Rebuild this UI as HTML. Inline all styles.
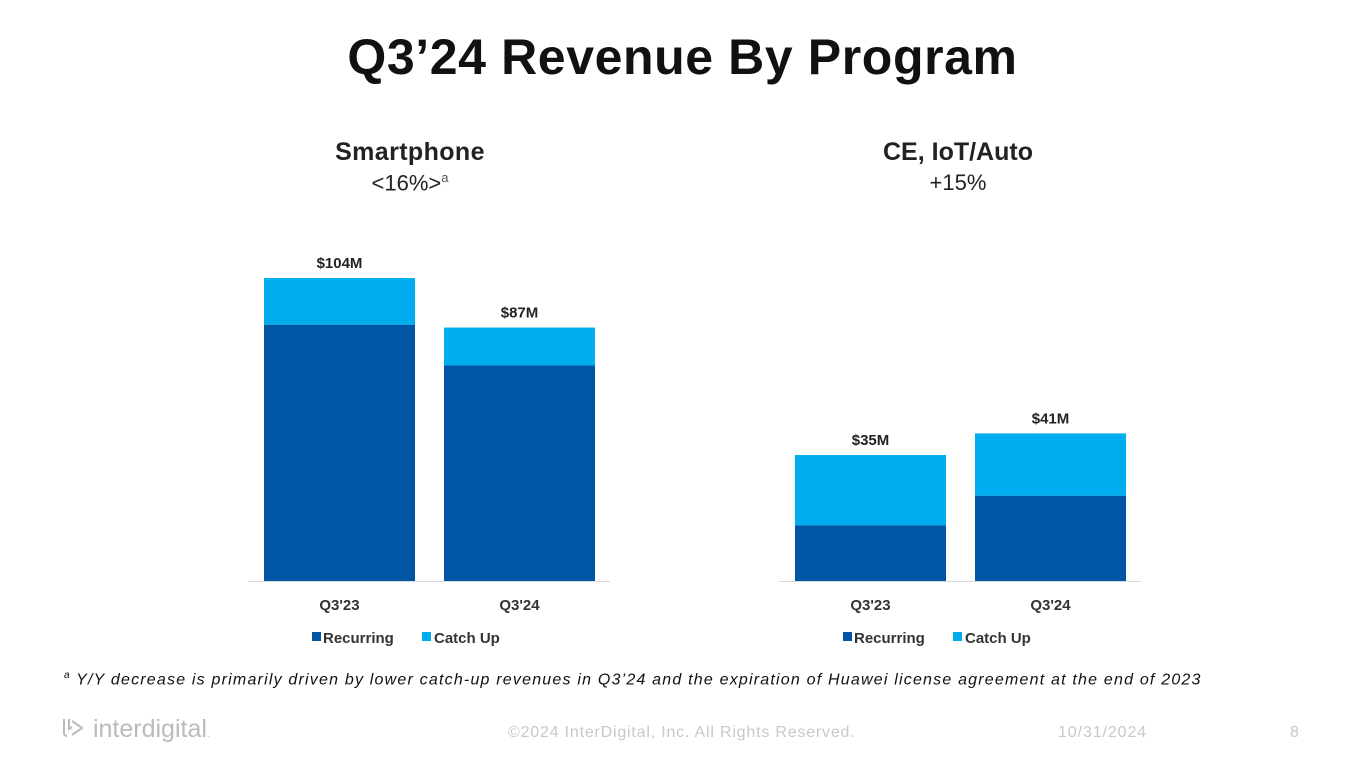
<!DOCTYPE html>
<html><head><meta charset="utf-8">
<style>
body{margin:0;width:1365px;height:768px;background:#fff;font-family:"Liberation Sans",sans-serif;overflow:hidden;position:relative}
.t{position:absolute;white-space:nowrap}
</style></head><body>
<div class="t" style="left:0;width:1365px;text-align:center;top:28px;font-size:50px;font-weight:bold;color:#111;letter-spacing:0.6px">Q3’24 Revenue By Program</div>
<div class="t" style="left:260px;width:300px;text-align:center;top:138px;font-size:25px;font-weight:bold;color:#222;letter-spacing:0.4px">Smartphone</div>
<div class="t" style="left:260px;width:300px;text-align:center;top:170px;font-size:22px;color:#222">&lt;16%&gt;<span style="font-size:13px;vertical-align:super;color:#555">a</span></div>
<div class="t" style="left:808px;width:300px;text-align:center;top:138px;font-size:25px;font-weight:bold;color:#222">CE, IoT/Auto</div>
<div class="t" style="left:808px;width:300px;text-align:center;top:170px;font-size:22px;color:#222">+15%</div>
<svg id="c" width="1365" height="768" style="position:absolute;left:0;top:0"></svg>
<div class="t" style="left:64px;top:670px;font-size:16px;font-style:italic;color:#111;letter-spacing:1.2px"><span style="font-size:10px;vertical-align:super">a</span> Y/Y decrease is primarily driven by lower catch-up revenues in Q3’24 and the expiration of Huawei license agreement at the end of 2023</div>
<div class="t" style="left:60px;top:715px;font-size:25px;color:#bbb"><svg width="26" height="26" style="vertical-align:-4px" viewBox="0 0 26 26"><path d="M4 4v14a3 3 0 0 0 3 3M9 4v10l3-2M12 6l10 7-10 7" stroke="#bbb" stroke-width="2" fill="none"/></svg> interdigital<span style="font-size:10px">.</span></div>
<div class="t" style="left:508px;top:724px;font-size:16px;color:#c8c8c8;letter-spacing:0.8px">©2024 InterDigital, Inc. All Rights Reserved.</div>
<div class="t" style="left:1058px;top:724px;font-size:16px;color:#c8c8c8;letter-spacing:0.9px">10/31/2024</div>
<div class="t" style="left:1290px;top:724px;font-size:16px;color:#c8c8c8">8</div>
<script>
const categories=["Q3'23","Q3'24"];
const smartRecurring=[88,74];
const smartCatchUp=[16,13];
const smartTotals=["$104M","$87M"];
const ceRecurring=[15.5,23.7];
const ceCatchUp=[19.5,17.3];
const ceTotals=["$35M","$41M"];
const NS="http://www.w3.org/2000/svg";
const svg=document.getElementById('c');
function mk(tag,at,txt){const e=document.createElementNS(NS,tag);for(const k in at)e.setAttribute(k,at[k]);if(txt!=null)e.textContent=txt;svg.appendChild(e);return e;}
function chart(x0,pxPerM,rec,cu,tot,prefix){
  const base=581,bw=151,gap=180;
  const y=v=>base-v*pxPerM;
  categories.forEach((c,i)=>{
    const x=x0+16+i*gap;
    let r=mk('rect',{x:x,y:y(rec[i]),width:bw,height:base-y(rec[i]),fill:'#0155A5'});
    
    
    let k=mk('rect',{x:x,y:y(rec[i]+cu[i]),width:bw,height:cu[i]*pxPerM,fill:'#00AEEF'});
    
    
    let l=mk('text',{x:x+bw/2,y:y(rec[i]+cu[i])-10,'text-anchor':'middle','font-size':15,'font-weight':'bold',fill:'#222'},tot[i]);
    
    
    let t=mk('text',{x:x+bw/2,y:610,'text-anchor':'middle','font-size':15,'font-weight':'bold',fill:'#333'},c);
    
    
  });
  let a=mk('line',{x1:x0,x2:x0+362,y1:base+0.5,y2:base+0.5,stroke:'#d9d9d9','stroke-width':1});
  
  
  const lx=x0+64;
  let s1=mk('rect',{x:lx,y:632,width:9,height:9,fill:'#0155A5'});
  
  
  let t1=mk('text',{x:lx+11,y:643,'font-size':15,'font-weight':'bold',fill:'#333'},'Recurring');
  
  
  let s2=mk('rect',{x:lx+110,y:632,width:9,height:9,fill:'#00AEEF'});
  
  
  let t2=mk('text',{x:lx+122,y:643,'font-size':15,'font-weight':'bold',fill:'#333'},'Catch Up');
  
  
}
chart(248,2.913,smartRecurring,smartCatchUp,smartTotals,'smartphone');
chart(779,3.6,ceRecurring,ceCatchUp,ceTotals,'ce');
</script>
</body></html>
